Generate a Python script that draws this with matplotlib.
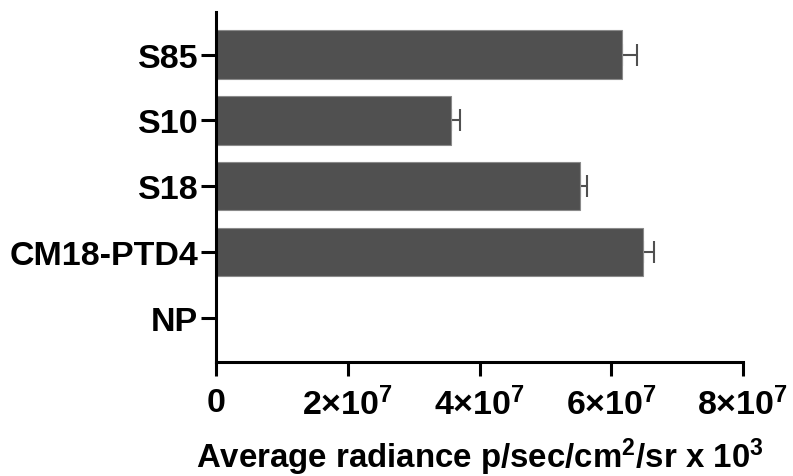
import numpy as np
import matplotlib
matplotlib.use("Agg")
import matplotlib.pyplot as plt
from matplotlib.ticker import FuncFormatter

plt.rcParams['font.family'] = ['Liberation Sans', 'DejaVu Sans']
plt.rcParams['font.weight'] = 'bold'
plt.rcParams['mathtext.fontset'] = 'custom'
plt.rcParams['mathtext.rm'] = 'Liberation Sans:bold'
plt.rcParams['mathtext.bf'] = 'Liberation Sans:bold'
plt.rcParams['mathtext.it'] = 'Liberation Sans:bold'

# data, top to bottom
groups = ["S85", "S10", "S18", "CM18-PTD4", "NP"]
means = [6.17e7, 3.57e7, 5.53e7, 6.49e7, 0.0]
sems = [0.22e7, 0.13e7, 0.10e7, 0.16e7, 0.0]
xticks = [0, 2e7, 4e7, 6e7, 8e7]

bar_color = "#505050"

fig = plt.figure(figsize=(7.93, 4.77), dpi=100)
ax = fig.add_axes([0.2729, 0.2396, 0.6637, 0.7338])

pos = np.arange(len(groups))[::-1]
ax.barh(pos, means, height=0.73, color=bar_color, edgecolor="#8a8a8a", linewidth=0.8, zorder=2)

has_err = [i for i, v in enumerate(means) if v > 0]
ax.errorbar([means[i] for i in has_err], [pos[i] for i in has_err],
            xerr=[np.zeros(len(has_err)), [sems[i] for i in has_err]],
            fmt='none', ecolor=bar_color, elinewidth=1.5, capsize=8, capthick=1.5, zorder=1)

ax.set_xlim(0, 8e7)
ax.set_ylim(-0.66, 4.65)
ax.set_yticks(pos)
ax.set_yticklabels(groups, fontsize=24.5, fontweight='bold')
ax.set_xticks(xticks)

def fmt(v, _):
    if v == 0:
        return "0"
    m = int(round(v / 1e7))
    return r"$%d{\times}10^{7}$" % m

ax.xaxis.set_major_formatter(FuncFormatter(fmt))
for lab in ax.get_xticklabels():
    lab.set_fontsize(24.5)
    lab.set_fontweight('bold')

for s in ['top', 'right']:
    ax.spines[s].set_visible(False)
for s in ['left', 'bottom']:
    ax.spines[s].set_linewidth(2.2)
ax.tick_params(axis='y', length=11, width=2.2, pad=2)
ax.tick_params(axis='x', length=10, width=2.2, pad=8)

ax.set_xlabel(r"Average radiance p/sec/cm$^{2}$/sr x 10$^{3}$", fontsize=23.8, fontweight='bold', labelpad=10)

fig.savefig("out.png", dpi=100)
